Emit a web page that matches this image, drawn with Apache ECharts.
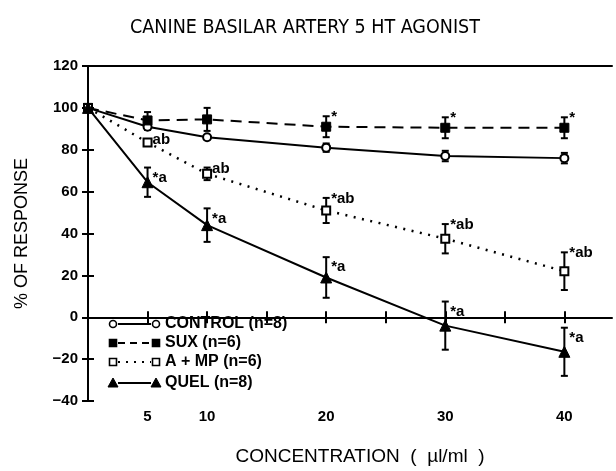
<!DOCTYPE html>
<html>
<head>
<meta charset="utf-8">
<script src="https://cdn.jsdelivr.net/npm/echarts@6/dist/echarts.min.js"></script>
<style>html,body{margin:0;padding:0;background:#fff;}#chart{width:616px;height:471px;}</style>
</head>
<body>
<div id="chart"></div>
<script>
const xValues = [0, 5, 10, 20, 30, 40];
const controlMean = [100, 91, 86, 81, 77, 76];
const controlErr = [0, 1.5, 1, 2, 2.5, 2.5];
const suxMean = [100, 94, 94.5, 91, 90.5, 90.5];
const suxErr = [0, 4, 5.5, 5, 5, 5];
const ampMean = [100, 83.5, 68.5, 51, 37.5, 22];
const ampErr = [0, 1.5, 3, 6, 7, 9];
const quelMean = [100, 64.5, 44, 19, -4, -16.5];
const quelErr = [0, 7, 8, 9.7, 11.5, 11.5];
const suxNotes = ['', '', '', '*', '*', '*'];
const ampNotes = ['', 'ab', 'ab', '*ab', '*ab', '*ab'];
const quelNotes = ['', '*a', '*a', '*a', '*a', '*a'];
const xTickValues = [5, 10, 15, 20, 25, 30, 35, 40];
const xLabelValues = [5, 10, 20, 30, 40];
const legendNames = ['CONTROL (n=8)', 'SUX (n=6)', 'A + MP (n=6)', 'QUEL (n=8)'];

const FONT = 'Liberation Sans, Arial, sans-serif';
const NARROW = '"Liberation Sans Narrow", "DejaVu Sans Condensed", Arial, sans-serif';

function pts(mean) { return xValues.map((x, i) => [x, mean[i]]); }
function errData(mean, err, notes) { return xValues.map((x, i) => [x, mean[i], err[i], notes ? notes[i] : '']); }

function errRender(noteDy) {
  return function (params, api) {
    const x = api.value(0), m = api.value(1), e = api.value(2);
    const note = api.value(3);
    const children = [];
    if (e > 0) {
      const top = api.coord([x, m + e]);
      const bot = api.coord([x, m - e]);
      const st = { stroke: '#000', lineWidth: 2 };
      children.push({ type: 'line', shape: { x1: top[0], y1: top[1], x2: bot[0], y2: bot[1] }, style: st });
      children.push({ type: 'line', shape: { x1: top[0] - 3.5, y1: top[1], x2: top[0] + 3.5, y2: top[1] }, style: st });
      children.push({ type: 'line', shape: { x1: bot[0] - 3.5, y1: bot[1], x2: bot[0] + 3.5, y2: bot[1] }, style: st });
      if (note) {
        children.push({ type: 'text', x: top[0] + 5, y: top[1] + noteDy,
          style: { text: note, fill: '#000', font: 'bold 15px ' + FONT, verticalAlign: 'middle', align: 'left' } });
      }
    }
    return { type: 'group', children: children };
  };
}

const black = '#000';
const series = [
  { name: 'err-control', type: 'custom', renderItem: errRender(0), data: errData(controlMean, controlErr), z: 1, silent: true },
  { name: 'err-sux', type: 'custom', renderItem: errRender(1), data: errData(suxMean, suxErr, suxNotes), z: 1, silent: true },
  { name: 'err-amp', type: 'custom', renderItem: errRender(1), data: errData(ampMean, ampErr, ampNotes), z: 1, silent: true },
  { name: 'err-quel', type: 'custom', renderItem: errRender(10), data: errData(quelMean, quelErr, quelNotes), z: 1, silent: true },
  { name: 'CONTROL', type: 'line', data: pts(controlMean), symbol: 'circle', symbolSize: 8,
    lineStyle: { color: black, width: 2 }, itemStyle: { color: '#fff', borderColor: black, borderWidth: 2 }, z: 3 },
  { name: 'SUX', type: 'line', data: pts(suxMean), symbol: 'rect', symbolSize: 9,
    lineStyle: { color: black, width: 2, type: [11, 7] }, itemStyle: { color: black, borderColor: black, borderWidth: 1 }, z: 3 },
  { name: 'A + MP', type: 'line', data: pts(ampMean), symbol: 'rect', symbolSize: 8,
    lineStyle: { color: black, width: 2.5, type: [2, 6.5] }, itemStyle: { color: '#fff', borderColor: black, borderWidth: 2 }, z: 3 },
  { name: 'QUEL', type: 'line', data: pts(quelMean), symbol: 'triangle', symbolSize: 11,
    lineStyle: { color: black, width: 2 }, itemStyle: { color: black, borderColor: black, borderWidth: 1 }, z: 3 }
];
series.forEach(s => { if (s.type === 'line') { s.showAllSymbol = true; } s.animation = false; });

// legend drawn as graphic rows
const legendRows = [
  { sym: 'circle', fill: '#fff', dash: null },
  { sym: 'rect', fill: '#000', dash: [7, 5] },
  { sym: 'rect', fill: '#fff', dash: [2, 6] },
  { sym: 'triangle', fill: '#000', dash: null }
];
const legendY = [324, 343, 362, 383];
const graphics = [];
legendRows.forEach((r, i) => {
  const y = legendY[i];
  const x1 = 113, x2 = 156;
  graphics.push({ type: 'line', shape: { x1: x1 + 5, y1: y, x2: x2 - 5, y2: y },
    style: { stroke: '#000', lineWidth: 2, lineDash: r.dash } });
  [x1, x2].forEach(cx => {
    if (r.sym === 'circle') {
      graphics.push({ type: 'circle', shape: { cx: cx, cy: y, r: 3.5 }, style: { fill: '#fff', stroke: '#000', lineWidth: 1.6 } });
    } else if (r.sym === 'rect') {
      graphics.push({ type: 'rect', shape: { x: cx - 3.5, y: y - 3.5, width: 7, height: 7 }, style: { fill: r.fill, stroke: '#000', lineWidth: 1.6 } });
    } else {
      graphics.push({ type: 'polygon', shape: { points: [[cx, y - 5], [cx - 5, y + 4], [cx + 5, y + 4]] }, style: { fill: '#000', stroke: '#000', lineWidth: 1 } });
    }
  });
  graphics.push({ type: 'text', x: 165, y: y, style: { text: legendNames[i], fill: '#000', font: 'bold 16px ' + FONT, verticalAlign: 'middle' } });
});

const chart = echarts.init(document.getElementById('chart'), null, { renderer: 'canvas' });
chart.setOption({
  animation: false,
  backgroundColor: '#fff',
  title: { text: 'CANINE BASILAR ARTERY 5 HT AGONIST', left: 300, top: 13, textAlign: 'center',
    textStyle: { fontFamily: NARROW, fontSize: 19.5, fontWeight: 'normal', color: '#000' } },
  grid: { left: 88, right: 4, top: 66, bottom: 64, containLabel: false },
  xAxis: [
    { type: 'value', min: 0, max: 44, position: 'bottom',
      name: 'CONCENTRATION  (  \u00b5l/ml  )', nameLocation: 'middle', nameGap: 46,
      nameTextStyle: { fontFamily: FONT, fontSize: 19, color: '#000', padding: [0, 0, 0, 20] },
      axisLine: { show: true, lineStyle: { color: '#000', width: 2 } },
      axisTick: { show: true, length: 6, customValues: xTickValues, lineStyle: { color: '#000', width: 2 } },
      axisLabel: { customValues: xLabelValues, margin: 8, fontFamily: FONT, fontSize: 15, fontWeight: 'bold', color: '#000' },
      splitLine: { show: false } },
    { type: 'value', min: 0, max: 44, position: 'bottom', offset: 0,
      axisLine: { show: false },
      axisTick: { show: true, inside: true, length: 6, customValues: xTickValues, lineStyle: { color: '#000', width: 2 } },
      axisLabel: { show: false }, splitLine: { show: false } },
    { type: 'value', min: 0, max: 44, position: 'top',
      axisLine: { show: true, lineStyle: { color: '#000', width: 2 } },
      axisTick: { show: false }, axisLabel: { show: false }, splitLine: { show: false } }
  ],
  yAxis: [
    { type: 'value', min: -40, max: 120, interval: 20, position: 'left',
      name: '% OF RESPONSE', nameLocation: 'middle', nameGap: 57,
      nameTextStyle: { fontFamily: FONT, fontSize: 18, color: '#000' },
      axisLine: { show: true, lineStyle: { color: '#000', width: 2 } },
      axisTick: { show: true, length: 6, lineStyle: { color: '#000', width: 2 } },
      axisLabel: { margin: 10, fontFamily: FONT, fontSize: 15, fontWeight: 'bold', color: '#000',
        formatter: v => (v < 0 ? '\u2212' + Math.abs(v) : String(v)) },
      splitLine: { show: false } },
    { type: 'value', min: -40, max: 120, interval: 20, position: 'left', offset: 0,
      axisLine: { show: false },
      axisTick: { show: true, inside: true, length: 6, lineStyle: { color: '#000', width: 2 } },
      axisLabel: { show: false }, splitLine: { show: false } }
  ],
  graphic: graphics,
  series: series
});
</script>
</body>
</html>
